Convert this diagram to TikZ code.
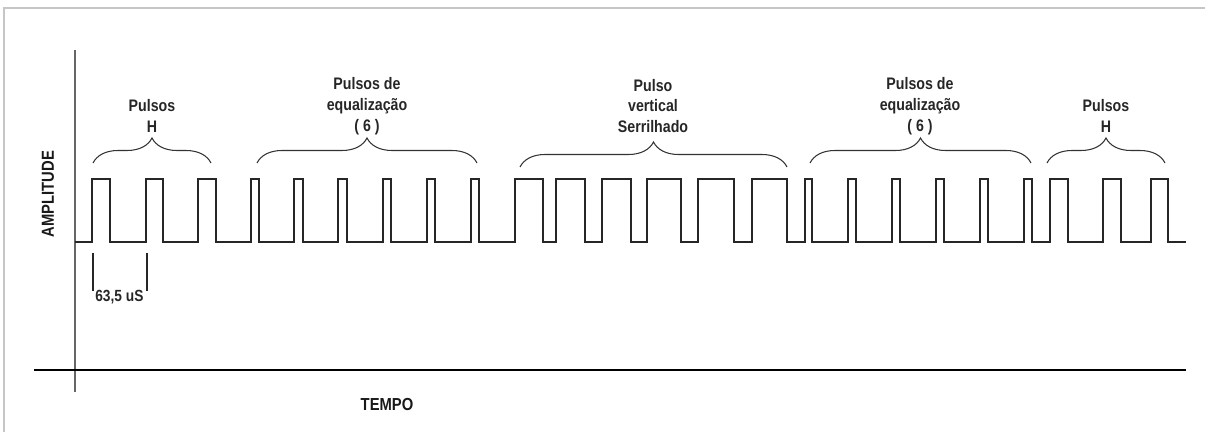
\documentclass[tikz,border=0pt]{standalone}
\usepackage{fontspec}
\newfontfamily\lblfont[FakeStretch=0.85]{Liberation Sans}
\usetikzlibrary{decorations.pathreplacing}
\tikzset{
  wave/.style={black!85, line width=0.75pt, line join=miter},
  axisline/.style={line width=0.9pt},
  grp/.style={black!80, line width=0.6pt, decorate,
    decoration={brace, amplitude=0.5cm}},
  lbl/.style={font=\lblfont\bfseries\fontsize{9.5}{11.9}\selectfont,
    align=center, inner sep=0pt, text=black!85},
  axlbl/.style={font=\lblfont\bfseries\fontsize{9.9}{12}\selectfont,
    inner sep=0pt, text=black!90},
}
\begin{document}
\begin{tikzpicture}[x=0.02cm, y=-0.02cm]
        \useasboundingbox (0,0) rectangle (1205,432);
        % frame of the screenshot
        \draw[gray!45, line width=0.6pt] (4,432) -- (4,8) -- (1205,8);
        % axes
        \draw[axisline, black!60] (75,50) -- (75,392);
        \draw[axisline] (34,370) -- (1186,370);
        \node[axlbl, rotate=90] (amp) at (48,194) {AMPLITUDE};
        \node[axlbl] (tempo) at (387,405) {TEMPO};
        % sync pulses
        \draw[wave] (75,242)
          \foreach \r/\f in {92/110,146/163,198/216,
                             251/259,294/303,338/347,383/391,427/435,471/479,
                             515/543,556/585,602/631,647/681,698/734,752/787,
                             805/812,848/856,892/900,936/944,980/988,1024/1032,
                             1050/1068,1103/1121,1151/1168}
          { -- (\r,242) -- (\r,179) -- (\f,179) -- (\f,242) }
          -- (1186,242);
        % period marker
        \draw[wave, line width=0.6pt] (93,253) -- (93,291);
        \draw[wave, line width=0.6pt] (147,253) -- (147,291);
        \node[lbl, font=\lblfont\bfseries\fontsize{9.2}{11}\selectfont,
              anchor=west] (per) at (95,297) {63,5 uS};
        % groups
        \draw[grp] (93,163) -- (211,163);
        \node[lbl] (gH1) at (152,116) {Pulsos\\H};
        \draw[grp] (257,163) -- (477,163);
        \node[lbl] (gEq1) at (367,106) {Pulsos de\\equalização\\( 6 )};
        \draw[grp] (520,167) -- (787,167);
        \node[lbl] (gV) at (653,106) {Pulso\\vertical\\Serrilhado};
        \draw[grp] (810,163) -- (1031,163);
        \node[lbl] (gEq2) at (920,106) {Pulsos de\\equalização\\( 6 )};
        \draw[grp] (1047,163) -- (1165,163);
        \node[lbl] (gH2) at (1106,116) {Pulsos\\H};
\end{tikzpicture}
\end{document}
